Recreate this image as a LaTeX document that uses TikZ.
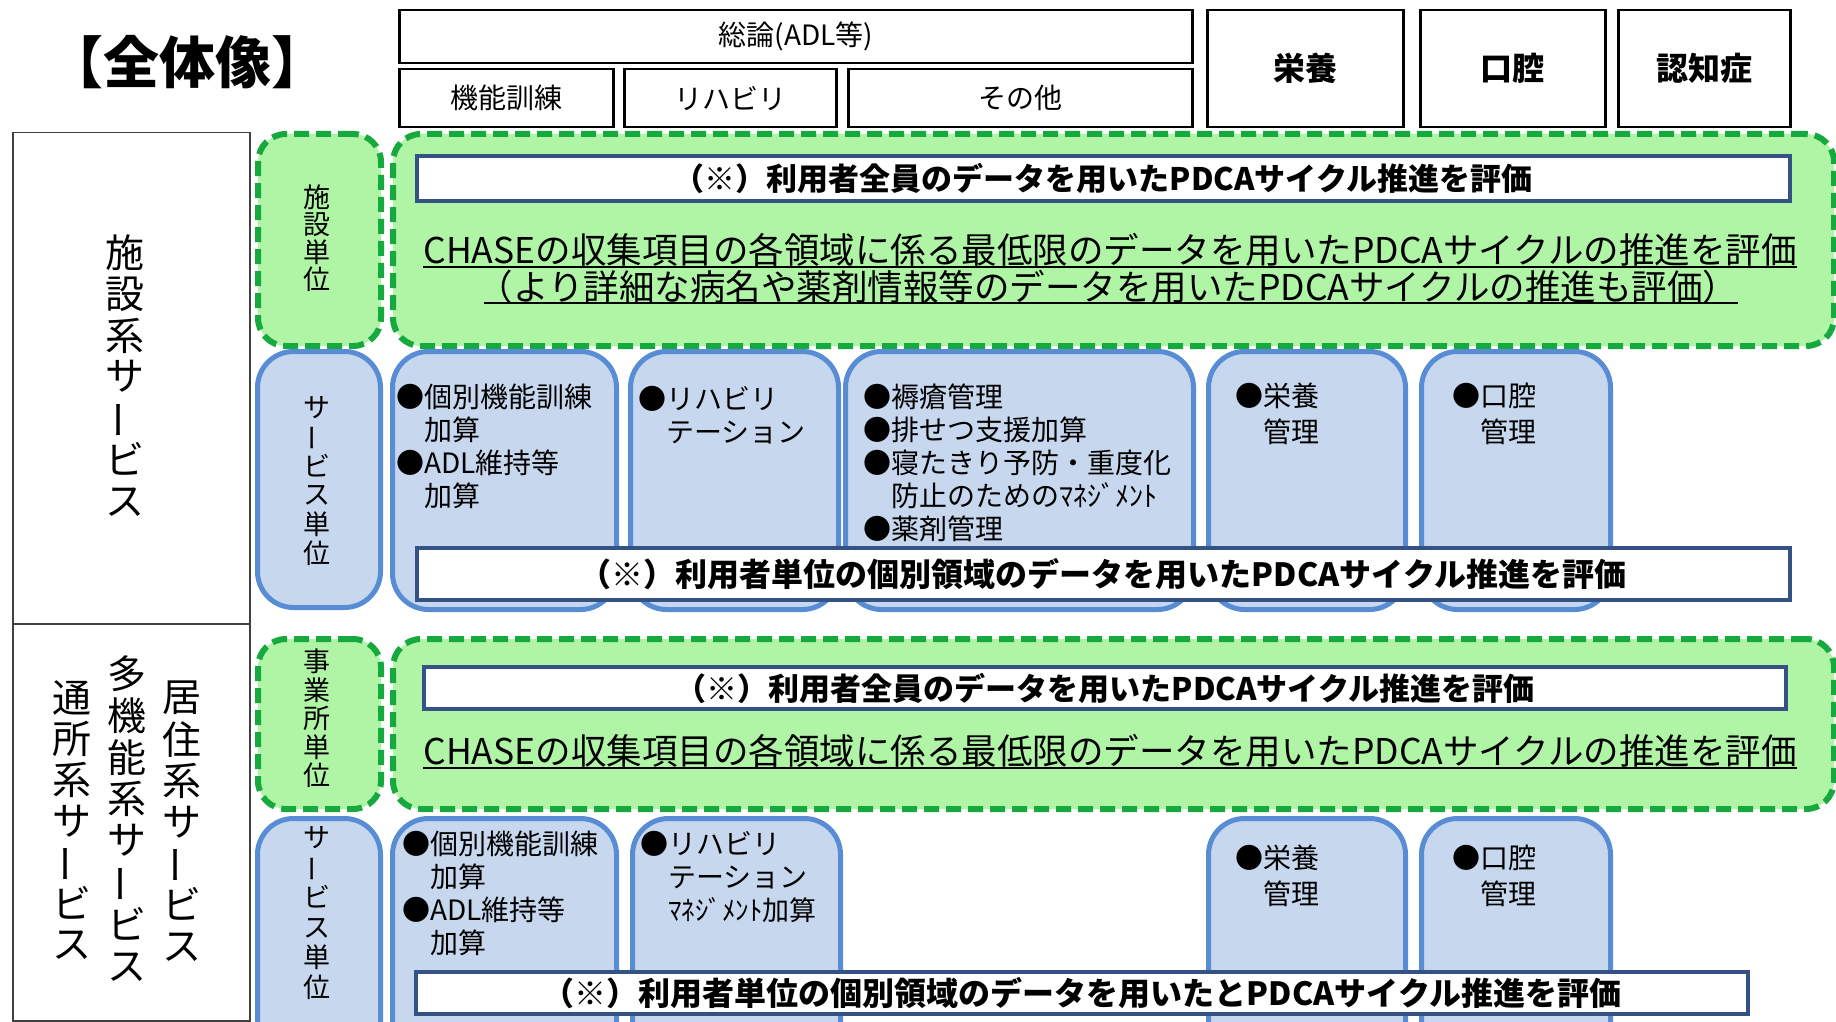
\documentclass[tikz,border=0pt]{standalone}
\usepackage{fontspec}
\setmainfont{Noto Sans CJK JP}
\definecolor{gfill}{RGB}{176,244,166}
\definecolor{gline}{RGB}{22,170,62}
\definecolor{bfill}{RGB}{198,215,238}
\definecolor{bline}{RGB}{88,140,212}
\definecolor{navy}{RGB}{52,82,132}
\newcommand\chouon{\rotatebox[origin=c]{90}{ー}}
\newcommand\ls{\rule[-8pt]{0pt}{33pt}}
\newcommand\lw{\rule[-10pt]{0pt}{36pt}}
\newcommand\vlabel[6]{%
  \foreach \ch [count=\k from 0] in {#6}{%
    \node[font=\fontsize{#5}{#5}\selectfont, inner sep=0] (#1-\k) at (#2, {#3+\k*#4}) {\vphantom{国}\ch};
  }%
}
\tikzset{
  hdr/.style={draw=black, line width=2.5, fill=white, inner sep=0, anchor=north west},
  lbox/.style={draw=black!75, line width=1.5, fill=white, inner sep=0, anchor=north west},
  gbox/.style={draw=gline, fill=gfill, line width=6, dash pattern=on 15pt off 7pt, rounded corners=28, inner sep=0, anchor=north west},
  bbox/.style={draw=bline, fill=bfill, line width=5, rounded corners=36, inner sep=0, anchor=north west},
  wbox/.style={draw=navy, fill=white, line width=4, inner sep=0, font=\bfseries\fontsize{31}{31}\selectfont},
  btext/.style={inner sep=0, anchor=north west, align=left, font=\fontsize{28}{33}\selectfont},
  btextw/.style={inner sep=0, anchor=north west, align=left, font=\fontsize{28}{36}\selectfont},
  utext/.style={inner sep=0, font=\fontsize{35.5}{35.5}\selectfont},
}
\begin{document}
\begin{tikzpicture}[x=1pt,y=-1pt]
\useasboundingbox (0,0) rectangle (1836,1022);
\clip (0,0) rectangle (1836,1022);
% title
\node[inner sep=0, font=\bfseries\fontsize{56}{56}\selectfont] (title) at (187,62) {【全体像】};
% header boxes
\node[hdr, minimum width=793, minimum height=53] (hA) at (398,9) {};
\node[font=\fontsize{28}{28}\selectfont, inner sep=0] (hAt) at (hA.center) {総論(ADL等)};
\node[hdr, minimum width=214, minimum height=58] (hB) at (398,68) {};
\node[font=\fontsize{28}{28}\selectfont, inner sep=0] (hBt) at (hB.center) {機能訓練};
\node[hdr, minimum width=212, minimum height=58] (hC) at (623,68) {};
\node[font=\fontsize{28}{28}\selectfont, inner sep=0] (hCt) at (hC.center) {リハビリ};
\node[hdr, minimum width=344, minimum height=58] (hD) at (847,68) {};
\node[font=\fontsize{28}{28}\selectfont, inner sep=0] (hDt) at (hD.center) {その他};
\node[hdr, minimum width=196, minimum height=117] (hE) at (1206,9) {};
\node[font=\bfseries\fontsize{32}{32}\selectfont, inner sep=0] (hEt) at (hE.center) {栄養};
\node[hdr, minimum width=185, minimum height=117] (hF) at (1419,9) {};
\node[font=\bfseries\fontsize{32}{32}\selectfont, inner sep=0] (hFt) at (hF.center) {口腔};
\node[hdr, minimum width=172, minimum height=117] (hG) at (1617,9) {};
\node[font=\bfseries\fontsize{32}{32}\selectfont, inner sep=0] (hGt) at (hG.center) {認知症};
% left category boxes
\node[lbox, minimum width=237, minimum height=491] (L1) at (12,132) {};
\node[lbox, minimum width=237, minimum height=397] (L2) at (12,623) {};
\vlabel{v1}{125}{252.7}{41.4}{39}{施,設,系,サ,\chouon,ビ,ス}
\vlabel{v2}{182}{698}{41.4}{39}{居,住,系,サ,\chouon,ビ,ス}
\vlabel{v3}{127}{674}{41.75}{39}{多,機,能,系,サ,\chouon,ビ,ス}
\vlabel{v4}{72}{698}{41.1}{39}{通,所,系,サ,\chouon,ビ,ス}
% ===== row 1 =====
\node[gbox, minimum width=123, minimum height=212] (g1s) at (255,131) {};
\vlabel{s1}{317}{196.75}{27.5}{27}{施,設,単,位}
\node[gbox, minimum width=1441, minimum height=212] (g1) at (390,131) {};
\node[wbox, minimum width=1373, minimum height=45] (w1) at (1103,178.5) {（※）利用者全員のデータを用いたPDCAサイクル推進を評価};
\node[utext] (u1) at (1110,250) {CHASEの収集項目の各領域に係る最低限のデータを用いたPDCAサイクルの推進を評価};
\node[utext] (u2) at (1108,287) {（より詳細な病名や薬剤情報等のデータを用いたPDCAサイクルの推進も評価）};
\draw[line width=2] ([yshift=-3pt]u1.base west) -- ([yshift=-3pt]u1.base east);
\draw[line width=2] ([yshift=-3pt,xshift=6pt]u2.base west) -- ([yshift=-3pt]u2.base east);
\node[bbox, minimum width=123, minimum height=256] (b1s) at (255,349) {};
\vlabel{s2}{317}{407.6}{29.2}{27}{サ,\chouon,ビ,ス,単,位}
\node[bbox, minimum width=224, minimum height=258] (b11) at (390,349) {};
\node[bbox, minimum width=208, minimum height=258] (b12) at (628,349) {};
\node[bbox, minimum width=348, minimum height=258] (b13) at (843,349) {};
\node[bbox, minimum width=197, minimum height=258] (b14) at (1206,349) {};
\node[bbox, minimum width=189, minimum height=258] (b15) at (1419,349) {};
\node[btext] (t11) at (396,382.6) {\ls●個別機能訓練\\\ls　加算\\\ls●ADL維持等\\\ls　加算};
\node[btext] (t12) at (638,384.6) {\ls●リハビリ\\\ls　テーション};
\node[btext] (t13) at (863,382.6) {\ls●褥瘡管理\\\ls●排せつ支援加算\\\ls●寝たきり予防・重度化\\\ls　防止のためのﾏﾈｼﾞﾒﾝﾄ\\\ls●薬剤管理};
\node[btextw] (t14) at (1235,380.6) {\lw●栄養\\\lw　管理};
\node[btextw] (t15) at (1452,380.6) {\lw●口腔\\\lw　管理};
\node[wbox, minimum width=1373, minimum height=52, font=\bfseries\fontsize{32}{32}\selectfont] (w2) at (1103,574) {（※）利用者単位の個別領域のデータを用いたPDCAサイクル推進を評価};
% ===== row 2 =====
\node[gbox, minimum width=123, minimum height=170] (g2s) at (255,636) {};
\vlabel{s3}{317}{661.3}{28.6}{27}{事,業,所,単,位}
\node[gbox, minimum width=1441, minimum height=170] (g2) at (390,636) {};
\node[wbox, minimum width=1362, minimum height=42] (w3) at (1105,688) {（※）利用者全員のデータを用いたPDCAサイクル推進を評価};
\node[utext] (u3) at (1110,751) {CHASEの収集項目の各領域に係る最低限のデータを用いたPDCAサイクルの推進を評価};
\draw[line width=2] ([yshift=-3pt]u3.base west) -- ([yshift=-3pt]u3.base east);
\node[bbox, minimum width=123, minimum height=260] (b2s) at (255,816) {};
\vlabel{s4}{317}{838}{29.8}{27}{サ,\chouon,ビ,ス,単,位}
\node[bbox, minimum width=224, minimum height=260] (b21) at (390,816) {};
\node[bbox, minimum width=208, minimum height=260] (b22) at (630,816) {};
\node[bbox, minimum width=197, minimum height=260] (b24) at (1206,816) {};
\node[bbox, minimum width=189, minimum height=260] (b25) at (1419,816) {};
\node[btext] (t21) at (402,829.6) {\ls●個別機能訓練\\\ls　加算\\\ls●ADL維持等\\\ls　加算};
\node[btext] (t22) at (640,829.6) {\ls●リハビリ\\\ls　テーション\\\ls　{\fontsize{27}{33}\selectfont ﾏﾈｼﾞﾒﾝﾄ加算}};
\node[btextw] (t24) at (1235,842.6) {\lw●栄養\\\lw　管理};
\node[btextw] (t25) at (1452,842.6) {\lw●口腔\\\lw　管理};
\node[wbox, minimum width=1332, minimum height=42, font=\bfseries\fontsize{32}{32}\selectfont] (w4) at (1082,993) {（※）利用者単位の個別領域のデータを用いたとPDCAサイクル推進を評価};
\end{tikzpicture}
\end{document}
